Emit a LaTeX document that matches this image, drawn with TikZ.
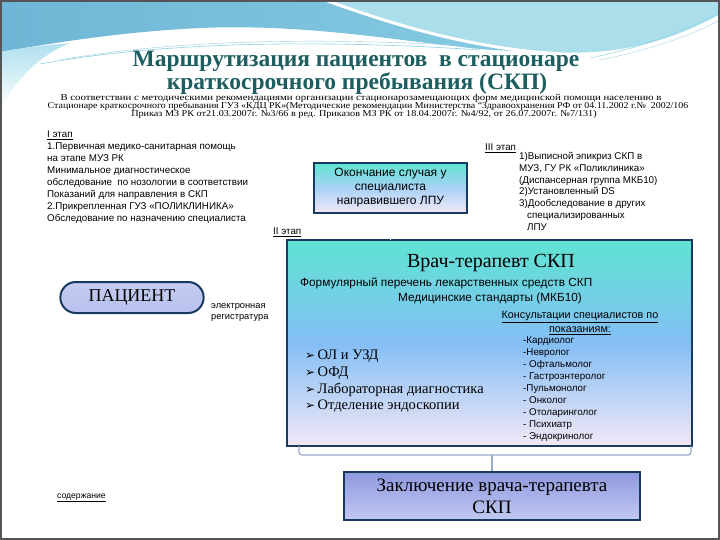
\documentclass[tikz,border=0pt]{standalone}
\usepackage{fontspec}
\setmainfont{Liberation Serif}
\newfontfamily\sansf{Liberation Sans}
\newfontfamily\djv{DejaVu Sans}
\usetikzlibrary{shapes.misc}
\definecolor{navy}{HTML}{173A5E}
\definecolor{titlec}{HTML}{1D5E60}
\definecolor{framec}{HTML}{555555}
\definecolor{brc}{HTML}{9AAAC8}
\definecolor{teal1}{HTML}{5FE4D2}
\definecolor{blue1}{HTML}{84BEF5}
\definecolor{lav1}{HTML}{F3E8F6}
\definecolor{peri1}{HTML}{8E98DE}
\definecolor{peri2}{HTML}{D6DCF9}
\definecolor{peri3}{HTML}{C2CAF2}
\definecolor{pat1}{HTML}{C3CBF1}
\definecolor{pat2}{HTML}{E8ECFC}
\definecolor{pat3}{HTML}{B7C1EC}
\definecolor{wave1}{HTML}{6FB6D6}
\definecolor{wave2}{HTML}{8DD2E6}
\definecolor{wave3}{HTML}{A9DEEA}
\tikzset{
  boxstyle/.style={draw=navy, line width=2pt, inner sep=0pt},
  smalltxt/.style={font=\sansf\fontsize{9.8}{12}\selectfont, align=left, inner sep=0pt, text=black},
  titletxt/.style={font=\bfseries\fontsize{23.5}{23.5}\selectfont, text=titlec, inner sep=0pt, anchor=base},
  subtxt/.style={font=\fontsize{9}{9}\selectfont, inner sep=0pt, anchor=base},
}
\begin{document}
\begin{tikzpicture}[x=1pt,y=-1pt]
\useasboundingbox (0,0) rectangle (720,540);
\fill[white] (0,0) rectangle (720,540);
% top waves
\shade[left color=wave1, right color=wave2] (0,0) -- (720,0) -- (720,8)
  .. controls (640,40) and (560,58) .. (470,48)
  .. controls (380,38) and (300,24) .. (200,28)
  .. controls (120,32) and (60,42) .. (0,52) -- cycle;
\fill[wave3] (325,0) .. controls (380,20) and (470,50) .. (565,54)
  .. controls (640,56) and (690,32) .. (720,16) -- (720,0) -- cycle;
\draw[white, line width=3pt] (325,0) .. controls (380,20) and (470,50) .. (565,54)
  .. controls (640,56) and (690,32) .. (720,16);
\shade[top color=wave2!70, bottom color=white] (0,52) .. controls (20,48) and (40,46) .. (70,43)
  .. controls (40,55) and (15,80) .. (0,110) -- cycle;
\draw[wave2, line width=0.6pt] (40,64) .. controls (150,44) and (300,38) .. (480,50);
\draw[wave1!70, line width=0.4pt] (60,60) .. controls (160,42) and (300,36) .. (470,46);
\draw[wave2, line width=0.5pt] (590,58) .. controls (640,48) and (690,30) .. (720,12);
\draw[wave1!60, line width=0.4pt] (600,60) .. controls (650,50) and (695,34) .. (720,20);
\draw[framec, line width=2pt] (1,1) rectangle (719,539);

% title
\node[titletxt] (title1) at (356,67) {Маршрутизация пациентов \ в стационаре};
\node[titletxt] (title2) at (357,90) {краткосрочного пребывания (СКП)};
\node[subtxt] (sub1) at (361,101) {\scalebox{1.2}[1]{В соответствии с методическими рекомендациями организации стационарозамещающих форм медицинской помощи населению в}};
\node[subtxt] (sub2) at (368,109) {\scalebox{1.1}[1]{Стационаре краткосрочного пребывания ГУЗ «КДЦ РК»(Методические рекомендации Министерства ``Здравоохранения РФ от 04.11.2002 г.№ \ 2002/106}};
\node[subtxt] (sub3) at (364,117) {\scalebox{1.13}[1]{Приказ МЗ РК от21.03.2007г. №3/66 в ред. Приказов МЗ РК от 18.04.2007г. №4/92, от 26.07.2007г. №7/131)}};

% stage I
\node[smalltxt, anchor=north west] (st1) at (47,131)
  {\underline{I этап}\\
   1.Первичная медико-санитарная помощь\\
   на этапе МУЗ РК\\
   Минимальное диагностическое\\
   обследование \ по нозологии в соответствии\\
   Показаний для направления в СКП\\
   2.Прикрепленная ГУЗ «ПОЛИКЛИНИКА»\\
   Обследование по назначению специалиста};
\node[smalltxt, anchor=west] (st2) at (273,232) {\underline{II этап}};
\node[smalltxt, anchor=west] (st3) at (485,148) {\underline{III этап}};
\node[smalltxt, anchor=north west, font=\sansf\fontsize{9.8}{11.8}\selectfont] (st3l) at (519,152)
  {1)Выписной эпикриз СКП в\\
   МУЗ, ГУ РК «Поликлиника»\\
   (Диспансерная группа МКБ10)\\
   2)Установленный DS\\
   3)Дообследование в других\\
   \hspace*{8pt}специализированных\\
   \hspace*{8pt}ЛПУ};

% Okonchanie box
\node[boxstyle, minimum width=153pt, minimum height=50pt, top color=teal1, bottom color=lav1, middle color=blue1!70!white,
      font=\sansf\fontsize{12}{14}\selectfont, align=center] (okon) at (390.5,188)
  {Окончание случая у\\специалиста\\направившего ЛПУ};

% main box: two-part gradient, then border
\node[inner sep=0pt, minimum width=405pt, minimum height=206pt] (main) at (489.5,343) {};
\shade[top color=teal1, bottom color=blue1] (main.north west) rectangle (main.east);
\shade[top color=blue1, bottom color=lav1] (main.west) rectangle (main.south east);
\draw[navy, line width=2.4pt] (main.north west) rectangle (main.south east);
\draw[white, line width=1pt] (okon.south) -- (okon.south |- main.north);

\node[font=\fontsize{20}{22}\selectfont, inner sep=0pt] (vrach) at (491,263) {Врач-терапевт СКП};
\node[font=\sansf\fontsize{11.8}{13}\selectfont, inner sep=0pt, anchor=west] (form) at (300,283) {Формулярный перечень лекарственных средств СКП};
\node[font=\sansf\fontsize{11.8}{13}\selectfont, inner sep=0pt] (std) at (490,298) {Медицинские стандарты (МКБ10)};
\node[font=\sansf\fontsize{10.8}{14}\selectfont, inner sep=0pt, align=center] (kons) at (580,323)
  {\underline{Консультации специалистов по}\\\underline{показаниям:}};
\node[font=\fontsize{14.5}{16.7}\selectfont, inner sep=0pt, align=left, anchor=north west] (diag) at (305,350)
  {{\djv\fontsize{12}{12}\selectfont ➢}\,ОЛ и УЗД\\
   {\djv\fontsize{12}{12}\selectfont ➢}\,ОФД\\
   {\djv\fontsize{12}{12}\selectfont ➢}\,Лабораторная диагностика\\
   {\djv\fontsize{12}{12}\selectfont ➢}\,Отделение эндоскопии};
\node[smalltxt, anchor=north west, font=\sansf\fontsize{9.8}{12}\selectfont] (spec) at (523,337)
  {-Кардиолог\\-Невролог\\- Офтальмолог\\- Гастроэнтеролог\\-Пульмонолог\\- Онколог\\- Отоларинголог\\- Психиатр\\- Эндокринолог};

% patient
\node[rounded rectangle, draw=navy, line width=2pt, minimum width=150pt, minimum height=31pt,
      top color=pat1, middle color=pat2, bottom color=pat3,
      font=\fontsize{18}{20}\selectfont] (pat) at (132,297.5) {ПАЦИЕНТ};
\node[smalltxt, font=\sansf\fontsize{9.3}{11.5}\selectfont, anchor=north west] (reg) at (211,303) {электронная\\регистратура};

% conclusion
\node[boxstyle, minimum width=296pt, minimum height=48pt, top color=peri1, middle color=peri2, bottom color=peri3,
      font=\fontsize{19}{22}\selectfont, align=center] (concl) at (492,496)
  {Заключение врача-терапевта\\СКП};
\coordinate (bl) at (299,446);
\coordinate (br) at (691,446);
\draw[brc, line width=1.3pt, rounded corners=3pt] (bl) -- (299,455) -- (691,455) -- (br);
\draw[brc, line width=1.3pt] (concl.north |- 0,455) -- (concl.north);

\node[font=\sansf\fontsize{8.6}{9}\selectfont, inner sep=0pt, anchor=west] (cont) at (57,498) {\underline{содержание}};
\end{tikzpicture}
\end{document}
